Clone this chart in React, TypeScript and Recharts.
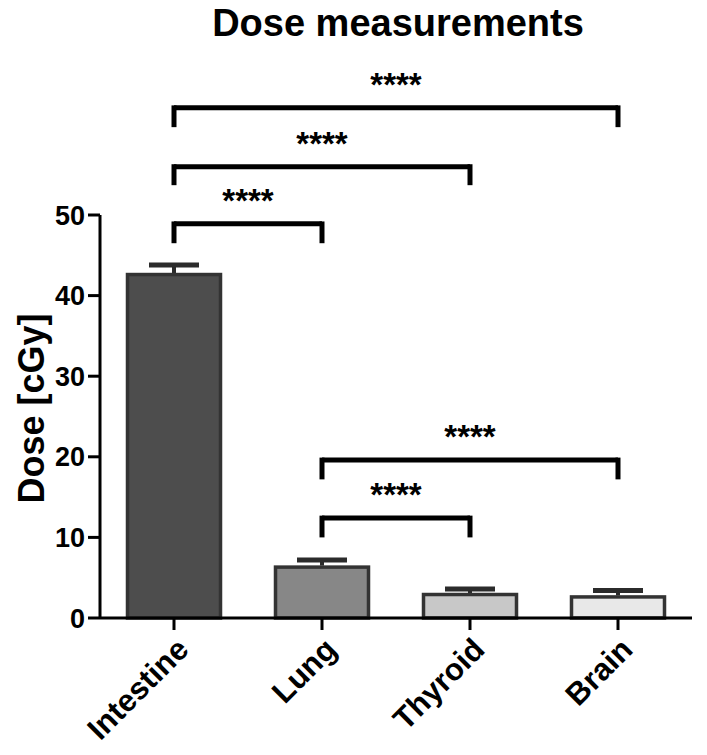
import { BarChart, Bar, XAxis, YAxis, ReferenceLine } from 'recharts';

const organs = ['Intestine', 'Lung', 'Thyroid', 'Brain'];
const doseMean = [42.8, 6.5, 3.1, 2.8];
const doseSem = [1.0, 0.7, 0.5, 0.6];
const yTicks = [0, 10, 20, 30, 40, 50];

// significance brackets: from/to category, height of the bar and the drop of the legs (cGy)
const bracketFrom = ['Intestine', 'Intestine', 'Intestine', 'Lung', 'Lung'];
const bracketTo = ['Lung', 'Thyroid', 'Brain', 'Brain', 'Thyroid'];
const bracketY = [48.9, 56.0, 63.3, 19.6, 12.4];
const bracketDrop = [2.4, 2.3, 2.4, 2.4, 2.4];
const bracketLabel = ['****', '****', '****', '****', '****'];

const fills = ['#4d4d4d', '#878787', '#c8c8c8', '#e8e8e8'];
const FONT = '"Liberation Sans", Arial, Helvetica, sans-serif';

const data = organs.map((organ, i) => ({
  organ,
  dose: doseMean[i],
  sem: doseSem[i],
}));

const brackets = bracketFrom.map((from, i) => ({
  from,
  to: bracketTo[i],
  y: bracketY[i],
  drop: bracketDrop[i],
  label: bracketLabel[i],
}));

// bar with an upward-only SEM whisker; the whisker length uses the bar's own px/unit
function BarWithSem(props: any) {
  const { x, y, width, height, payload, index } = props;
  const pxPerUnit = height / payload.dose;
  const top = y - payload.sem * pxPerUnit;
  const cx = x + width / 2;
  return (
    <g>
      <line x1={cx} x2={cx} y1={y} y2={top} stroke="#2b2b2b" strokeWidth={4} />
      <line x1={cx - 25} x2={cx + 25} y1={top} y2={top} stroke="#2b2b2b" strokeWidth={5} />
      <rect
        x={x + 1.5}
        y={y + 1.5}
        width={width - 3}
        height={height - 1.5}
        fill={fills[index]}
        stroke="#333"
        strokeWidth={3.5}
      />
    </g>
  );
}

function OrganTick(props: any) {
  const { x, y, payload } = props;
  return (
    <text
      x={0}
      y={0}
      transform={`translate(${x + 1},${y + 4}) rotate(-45)`}
      textAnchor="end"
      dy="0.7em"
      fontSize={31}
      fontWeight="bold"
      fontFamily={FONT}
      fill="#000"
    >
      {payload.value}
    </text>
  );
}

function YLabel(props: any) {
  const { viewBox } = props;
  const cx = viewBox.x + 16;
  const cy = viewBox.y + viewBox.height / 2 - 8;
  return (
    <text
      x={cx}
      y={cy}
      transform={`rotate(-90, ${cx}, ${cy})`}
      textAnchor="middle"
      dominantBaseline="central"
      fontSize={36}
      fontWeight="bold"
      fontFamily={FONT}
      fill="#000"
    >
      Dose [cGy]
    </text>
  );
}

const lineStyle = { stroke: '#000', strokeWidth: 5 };

export default function App() {
  return (
    <div style={{ position: 'absolute', left: 0, top: 0, width: 707, height: 755, background: '#fff' }}>
      <div
        style={{
          position: 'absolute',
          top: 4,
          left: 0,
          width: 796,
          textAlign: 'center',
          fontFamily: FONT,
          fontWeight: 'bold',
          fontSize: 38,
          lineHeight: '38px',
        }}
      >
        Dose measurements
      </div>
      <BarChart width={707} height={755} data={data} margin={{ top: 215, right: 15, left: 15, bottom: 17 }}>
        <XAxis
          dataKey="organ"
          height={120}
          interval={0}
          tick={<OrganTick />}
          tickSize={12}
          axisLine={{ stroke: '#000', strokeWidth: 3 }}
          tickLine={{ stroke: '#000', strokeWidth: 3 }}
        />
        <YAxis
          width={85}
          domain={[0, 50]}
          ticks={yTicks}
          tickSize={12}
          tickMargin={3}
          axisLine={{ stroke: '#000', strokeWidth: 3 }}
          tickLine={{ stroke: '#000', strokeWidth: 3 }}
          tick={{ fontSize: 27, fontWeight: 'bold', fill: '#000', fontFamily: FONT }}
          label={<YLabel />}
        />
        <Bar dataKey="dose" barSize={96} shape={<BarWithSem />} isAnimationActive={false} />
        {brackets.flatMap((b, i) => [
          <ReferenceLine
            key={`h${i}`}
            ifOverflow="visible"
            segment={[{ x: b.from, y: b.y }, { x: b.to, y: b.y }]}
            {...lineStyle}
            label={{
              value: b.label,
              position: 'top',
              offset: 12,
              fontSize: 33,
              fontWeight: 'bold',
              fill: '#000',
              fontFamily: FONT,
            }}
          />,
          <ReferenceLine
            key={`l${i}`}
            ifOverflow="visible"
            segment={[{ x: b.from, y: b.y + 0.3 }, { x: b.from, y: b.y - b.drop }]}
            {...lineStyle}
          />,
          <ReferenceLine
            key={`r${i}`}
            ifOverflow="visible"
            segment={[{ x: b.to, y: b.y + 0.3 }, { x: b.to, y: b.y - b.drop }]}
            {...lineStyle}
          />,
        ])}
      </BarChart>
    </div>
  );
}
